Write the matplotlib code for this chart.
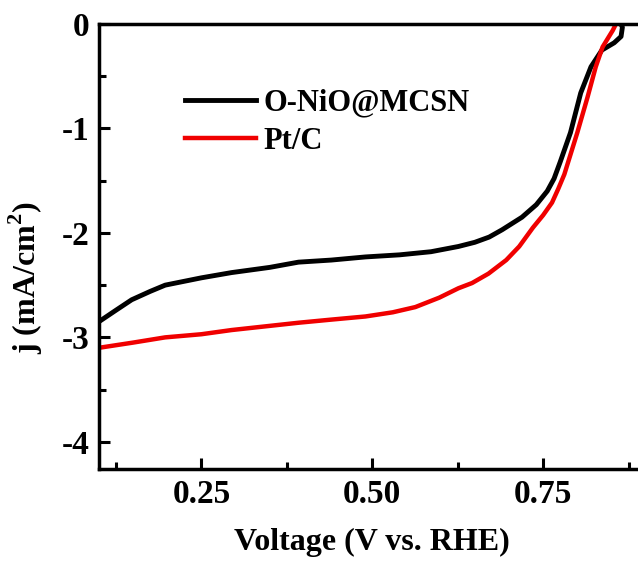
import matplotlib
matplotlib.use("Agg")
from matplotlib import pyplot as plt
from matplotlib.ticker import MultipleLocator

plt.rcParams['font.family'] = 'Liberation Serif'
plt.rcParams['font.weight'] = 'bold'
plt.rcParams['mathtext.fontset'] = 'custom'
plt.rcParams['mathtext.rm'] = 'Liberation Serif:bold'
plt.rcParams['mathtext.bf'] = 'Liberation Serif:bold'

# LSV curves
black_v = [0.100, 0.125, 0.148, 0.175, 0.197, 0.250, 0.294, 0.350, 0.392, 0.440,
           0.490, 0.540, 0.586, 0.626, 0.650, 0.671, 0.690, 0.719, 0.740, 0.756,
           0.766, 0.775, 0.790, 0.805, 0.820, 0.836, 0.854, 0.864, 0.866, 0.862]
black_j = [-2.85, -2.74, -2.64, -2.56, -2.50, -2.43, -2.38, -2.33, -2.28, -2.26,
           -2.23, -2.21, -2.18, -2.13, -2.09, -2.04, -1.97, -1.85, -1.73, -1.60,
           -1.48, -1.32, -1.04, -0.66, -0.41, -0.25, -0.18, -0.12, -0.03, 0.02]

red_v = [0.100, 0.150, 0.197, 0.250, 0.294, 0.350, 0.392, 0.440, 0.490, 0.530,
         0.563, 0.598, 0.626, 0.646, 0.670, 0.696, 0.715, 0.735, 0.750, 0.763,
         0.772, 0.781, 0.800, 0.815, 0.827, 0.837, 0.852, 0.858]
red_j = [-3.10, -3.05, -3.00, -2.97, -2.93, -2.89, -2.86, -2.83, -2.80, -2.76,
         -2.71, -2.62, -2.53, -2.48, -2.39, -2.26, -2.13, -1.95, -1.83, -1.71,
         -1.58, -1.44, -1.04, -0.70, -0.41, -0.22, -0.06, 0.02]

labels = ['O-NiO@MCSN', 'Pt/C']
xticks = [0.25, 0.50, 0.75]
xticklabels = ['0.25', '0.50', '0.75']
yticks = [0, -1, -2, -3, -4]

fig = plt.figure(figsize=(6.38, 5.68), dpi=100)
ax = fig.add_axes([0.155, 0.1743, 0.857, 0.7835])

ax.plot(black_v, black_j, color='black', lw=3.5, label=labels[0])
ax.plot(red_v, red_j, color='#f00000', lw=3.2, label=labels[1])

ax.set_xlim(0.1, 0.9)
ax.set_ylim(-4.26, 0)
ax.set_xticks(xticks)
ax.set_xticklabels(xticklabels)
ax.set_yticks(yticks)
ax.set_yticklabels([str(t) for t in yticks])
ax.xaxis.set_minor_locator(MultipleLocator(0.125))
ax.yaxis.set_minor_locator(MultipleLocator(0.5))

for s in ax.spines.values():
    s.set_linewidth(2.5)
ax.tick_params(which='major', direction='in', length=8, width=2.2, labelsize=24, pad=7)
ax.tick_params(which='minor', direction='in', length=5, width=2.2)

ax.set_xlabel('Voltage (V vs. RHE)', fontsize=23, fontweight='bold', labelpad=13)
ax.set_ylabel('j (mA/cm$^{2}$)', fontsize=23, fontweight='bold')
ax.yaxis.set_label_coords(-0.098, 0.43)

ax.legend(loc='upper left', bbox_to_anchor=(0.13, 0.89), frameon=False,
          fontsize=22, handlelength=2.3, handletextpad=0.25, labelspacing=0.32,
          borderpad=0)

fig.savefig('out.png', dpi=100)
